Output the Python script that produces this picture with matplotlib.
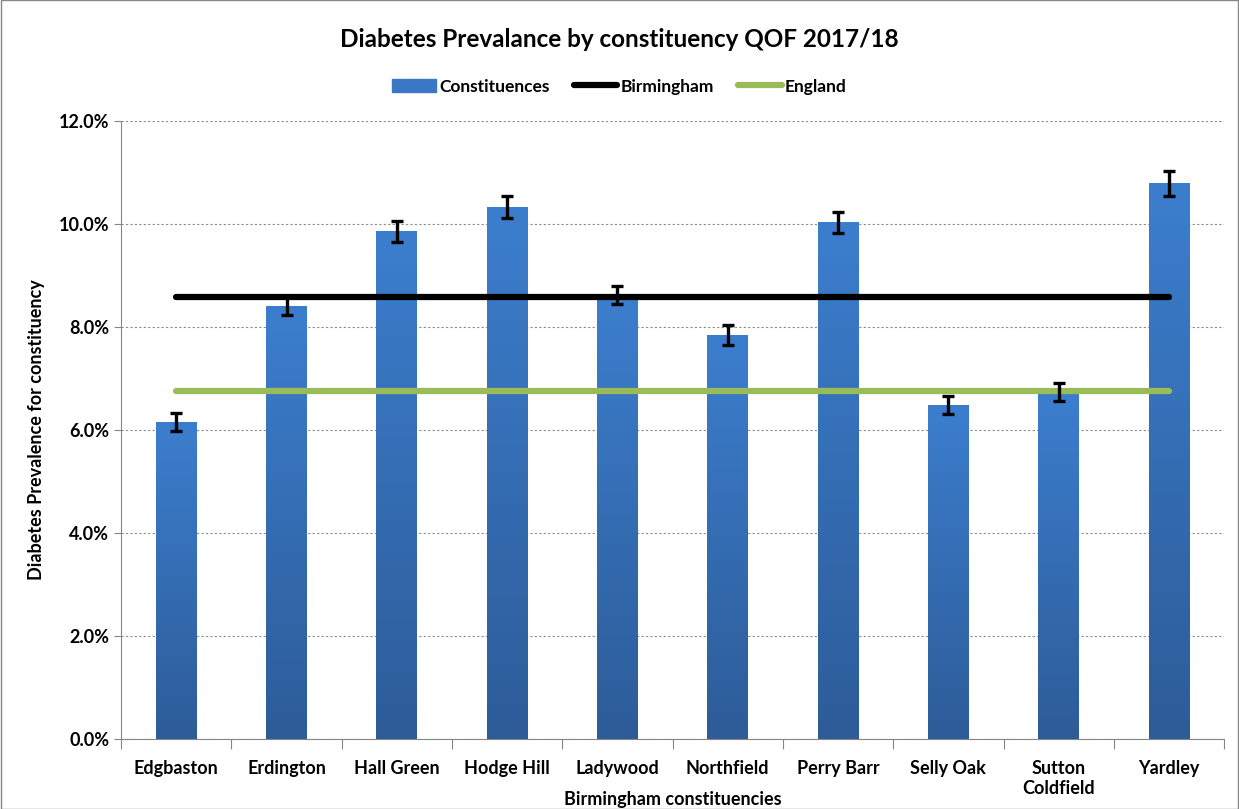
import matplotlib
matplotlib.use("Agg")
import matplotlib.pyplot as plt
import numpy as np
from matplotlib.ticker import FuncFormatter, MultipleLocator
from matplotlib.lines import Line2D
from matplotlib.patches import Patch

plt.rcParams['font.family'] = ['Lato', 'DejaVu Sans']

constituencies = ['Edgbaston', 'Erdington', 'Hall Green', 'Hodge Hill', 'Ladywood',
                  'Northfield', 'Perry Barr', 'Selly Oak', 'Sutton\nColdfield', 'Yardley']
prevalence = [6.16, 8.41, 9.86, 10.33, 8.62, 7.84, 10.03, 6.49, 6.74, 10.79]
err_low = [0.17, 0.18, 0.20, 0.21, 0.18, 0.19, 0.20, 0.17, 0.17, 0.24]
err_high = [0.17, 0.18, 0.20, 0.21, 0.18, 0.19, 0.20, 0.17, 0.17, 0.24]
birmingham = 8.59
england = 6.76

fig = plt.figure(figsize=(12.39, 8.09), dpi=100)
ax = fig.add_axes([0.0977, 0.0865, 0.8903, 0.7639])

x = np.arange(len(constituencies))
bars = ax.bar(x, prevalence, width=0.37, color='#3A78C5', zorder=2)

# vertical gradient on each bar (lighter top, darker bottom)
grad = np.linspace(0, 1, 256).reshape(-1, 1)
cmap = matplotlib.colors.LinearSegmentedColormap.from_list('g', ['#2D5C98', '#3C7ECE'])
for b in bars:
    bx, by = b.get_x(), b.get_y()
    w, h = b.get_width(), b.get_height()
    im = ax.imshow(grad, extent=[bx, bx + w, by, by + h], origin='lower',
                   aspect='auto', cmap=cmap, zorder=2)
    im.set_clip_path(b)

ax.errorbar(x, prevalence, yerr=[err_low, err_high], fmt='none', ecolor='black',
            elinewidth=2.4, capsize=4, capthick=2.4, zorder=5)

ax.plot([x[0], x[-1]], [birmingham, birmingham], color='black', lw=4.5,
        solid_capstyle='round', zorder=4)
ax.plot([x[0], x[-1]], [england, england], color='#9BBB59', lw=4.5,
        solid_capstyle='round', zorder=3)

ax.set_xlim(-0.5, len(constituencies) - 0.5)
ax.set_ylim(0, 12)
ax.yaxis.set_major_locator(MultipleLocator(2))
ax.yaxis.set_major_formatter(FuncFormatter(lambda v, p: f'{v:.1f}%'))
ax.grid(axis='y', color='#8C8C8C', linestyle=(0, (2, 2)), lw=0.8, zorder=0)
ax.set_axisbelow(True)

ax.set_xticks(np.arange(-0.5, len(constituencies), 1))
ax.set_xticklabels([])
ax.set_xticks(x, minor=True)
ax.set_xticklabels(constituencies, minor=True, fontsize=13, fontweight='bold')
ax.tick_params(axis='x', which='minor', length=0, pad=15)
ax.tick_params(axis='x', which='major', length=7, color='#868686')
ax.tick_params(axis='y', length=5, color='#868686', labelsize=13)
for lab in ax.get_yticklabels():
    lab.set_fontweight('bold')

for s in ['top', 'right']:
    ax.spines[s].set_visible(False)
for s in ['left', 'bottom']:
    ax.spines[s].set_color('#868686')

ax.set_ylabel('Diabetes Prevalence for constituency', fontsize=13, fontweight='bold', labelpad=10)
ax.set_xlabel('Birmingham constituencies', fontsize=13, fontweight='bold', va='center')
ax.xaxis.set_label_coords(0.5, -0.0975)

fig.suptitle('Diabetes Prevalance by constituency QOF 2017/18', x=0.5, y=0.965,
             fontsize=17.5, fontweight='bold')

handles = [Patch(color='#3A78C5'),
           Line2D([], [], color='black', lw=4.5, solid_capstyle='round'),
           Line2D([], [], color='#9BBB59', lw=4.5, solid_capstyle='round')]
fig.legend(handles, ['Constituences', 'Birmingham', 'England'], loc='center',
           bbox_to_anchor=(0.5, 0.893), ncol=3, frameon=False, handlelength=2.5,
           handletextpad=0.2, columnspacing=1.4, prop={'size': 12.5, 'weight': 'bold'})

fig.patches.append(plt.Rectangle((0.0005, 0.0005), 0.999, 0.999, transform=fig.transFigure,
                                 fill=False, edgecolor='#868686', lw=1))

fig.savefig('out.png', dpi=100)
